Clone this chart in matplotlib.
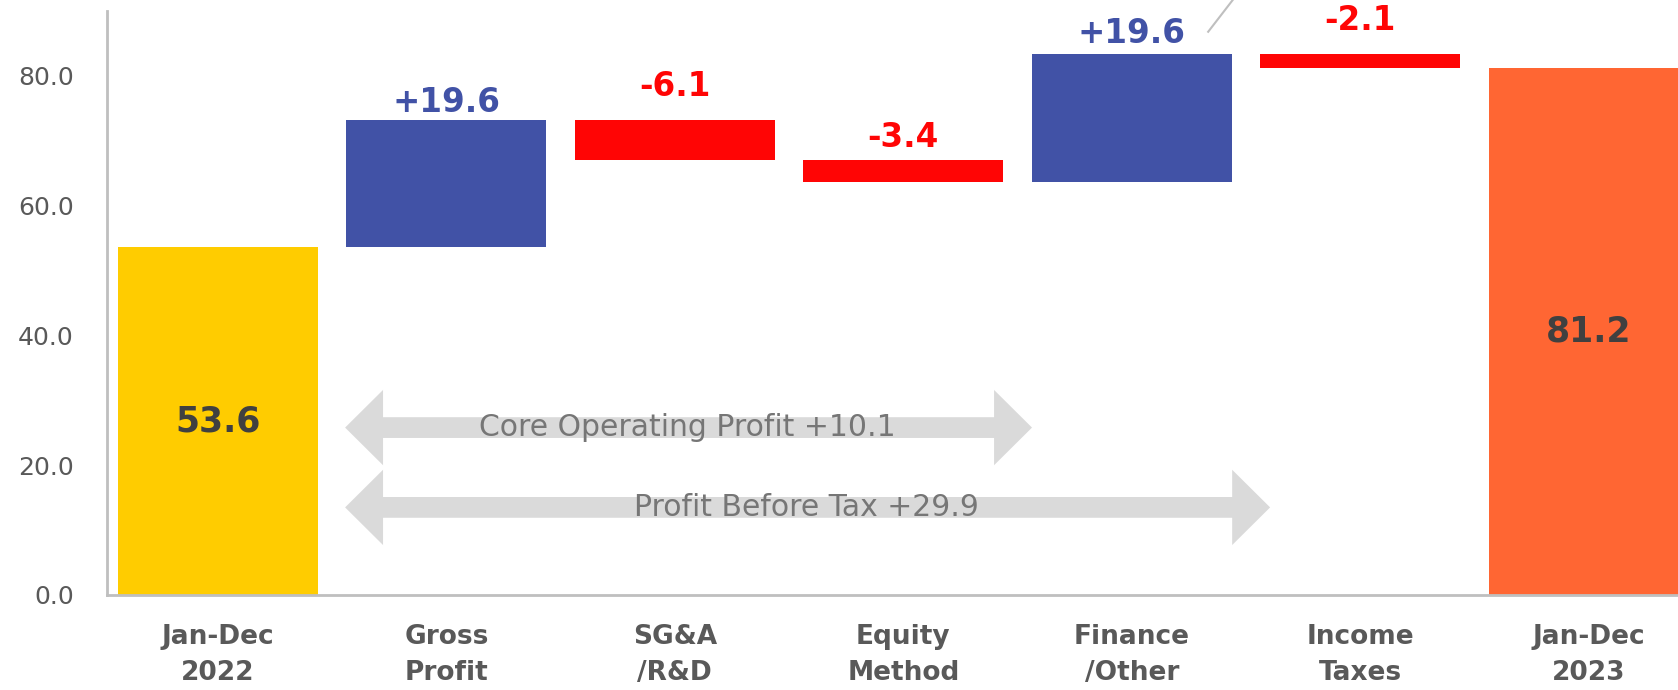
import numpy as np
import matplotlib.pyplot as plt
from matplotlib.patches import Polygon

# data
categories = ['Jan-Dec\n2022', 'Gross\nProfit', 'SG&A\n/R&D', 'Equity\nMethod',
              'Finance\n/Other', 'Income\nTaxes', 'Jan-Dec\n2023']
start_value = 53.6
deltas = [19.6, -6.1, -3.4, 19.6, -2.1]
end_value = 81.2
yticks = [0, 20, 40, 60, 80]

# bracket arrows: (label, first category, last category)
brackets = [('Core Operating Profit +10.1', 1, 3),
            ('Profit Before Tax +29.9', 1, 4)]

# colours
C_START = '#FFCC00'
C_UP = '#4152A6'
C_DOWN = '#FF0505'
C_END = '#FF6633'
C_AXIS = '#BFBFBF'
C_TEXT = '#595959'

# waterfall geometry
tops = start_value + np.cumsum(deltas)
prev = np.concatenate([[start_value], tops[:-1]])
lows = np.minimum(prev, tops)
highs = np.maximum(prev, tops)

fig = plt.figure(figsize=(16.78, 6.90), dpi=100)
ax = fig.add_axes([107 / 1678, 95 / 690, 1 - 107 / 1678, 584 / 690])

x = np.arange(len(categories))
w = 0.876

ax.bar(x[0], start_value, w, color=C_START)
ax.bar(x[1:-1], highs - lows, w, bottom=lows,
       color=[C_UP if d > 0 else C_DOWN for d in deltas])
ax.bar(x[-1], end_value, w, color=C_END)

# totals inside the end bars
for xi, v in [(x[0], start_value), (x[-1], end_value)]:
    ax.text(xi, v / 2, f'{v:.1f}', ha='center', va='center', fontsize=25,
            fontweight='bold', color='#404040')

# delta labels above bars
label_pad = [2.7, 5.2, 3.4, 3.3, 5.3]
for xi, d, hi, p in zip(x[1:-1], deltas, highs, label_pad):
    ax.text(xi, hi + p, f'{d:+.1f}', ha='center', va='center', fontsize=23.5,
            fontweight='bold', color=C_UP if d > 0 else C_DOWN)

# grey double arrows
arrow_y = [25.8, 13.5]
right_ext = [0.563, 0.605]
shaft = 1.6
head = 5.8
head_len = 0.166
for (txt, i0, i1), yc, re in zip(brackets, arrow_y, right_ext):
    xl = i0 - 0.443
    xr = i1 + re
    pts = [(xl, yc), (xl + head_len, yc + head), (xl + head_len, yc + shaft),
           (xr - head_len, yc + shaft), (xr - head_len, yc + head), (xr, yc),
           (xr - head_len, yc - head), (xr - head_len, yc - shaft),
           (xl + head_len, yc - shaft), (xl + head_len, yc - head)]
    ax.add_patch(Polygon(pts, closed=True, facecolor='#DADADA', edgecolor='none', zorder=3))

ax.text(2.053, arrow_y[0], brackets[0][0], ha='center', va='center', fontsize=21.5,
        color='#767676', zorder=4)
ax.text(2.578, arrow_y[1], brackets[1][0], ha='center', va='center', fontsize=21.5,
        color='#767676', zorder=4)

# leader line from a callout above the frame
ax.plot([4.334, 4.47], [86.8, 93.0], color='#BFBFBF', lw=1.5, clip_on=False)

# axes styling
ax.set_xlim(-0.485, 6.39)
ax.set_ylim(0, 90)
ax.set_yticks(yticks)
ax.set_yticklabels([f'{t:.1f}' for t in yticks], fontsize=18, color=C_TEXT)
ax.set_xticks(x)
ax.set_xticklabels(categories, fontsize=19, fontweight='bold', color=C_TEXT,
                   linespacing=1.5)
ax.tick_params(axis='both', length=0)
ax.tick_params(axis='y', pad=24)
ax.tick_params(axis='x', pad=21)
for s in ['top', 'right']:
    ax.spines[s].set_visible(False)
for s in ['left', 'bottom']:
    ax.spines[s].set_color(C_AXIS)
    ax.spines[s].set_linewidth(2)

fig.savefig('out.png', dpi=100)
